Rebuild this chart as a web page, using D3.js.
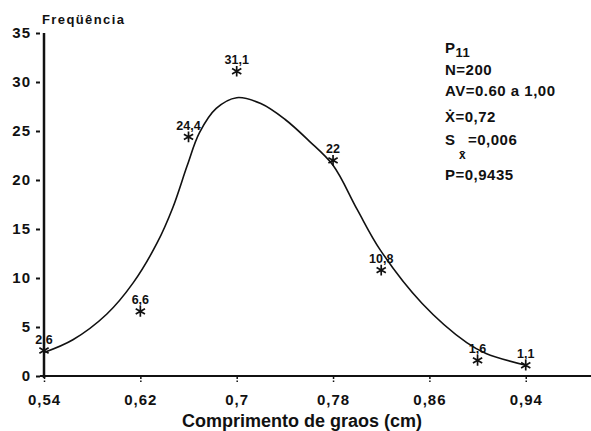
<!DOCTYPE html>
<html>
<head>
<meta charset="utf-8">
<script src="https://cdn.jsdelivr.net/npm/d3@7"></script>
<style>
  body { margin: 0; background: #fff; }
  text { font-family: "Liberation Sans", Arial, sans-serif; font-weight: bold; fill: #111; }
</style>
</head>
<body>
<div id="chart"></div>
<script>
// observed frequencies (%)
const obsX = [0.54, 0.62, 0.66, 0.70, 0.78, 0.82, 0.90, 0.94];
const obsY = [2.6, 6.6, 24.4, 31.1, 22, 10.8, 1.6, 1.1];
const obsLabels = ["2,6", "6,6", "24,4", "31,1", "22", "10,8", "1,6", "1,1"];

// fitted curve
const fitX = [0.54, 0.564, 0.592, 0.614, 0.634, 0.647, 0.659, 0.669, 0.683, 0.70, 0.72, 0.74, 0.76, 0.78, 0.80, 0.819, 0.854, 0.891, 0.907, 0.94];
const fitY = [2.4, 3.7, 6.3, 9.5, 13.6, 17.2, 21.5, 24.8, 27.3, 28.4, 27.8, 26.2, 24.0, 21.5, 17.0, 12.9, 7.4, 3.4, 2.3, 1.1];

const xTicks = [0.54, 0.62, 0.70, 0.78, 0.86, 0.94];
const xTickLabels = ["0,54", "0,62", "0,7", "0,78", "0,86", "0,94"];
const yTicks = [0, 5, 10, 15, 20, 25, 30, 35];

const W = 591, H = 431;

const svg = d3.select("#chart").append("svg")
    .attr("width", W)
    .attr("height", H);

const x = d3.scaleLinear().domain([0.54, 1.0]).range([44, 598]);
const y = d3.scaleLinear().domain([0, 35]).range([376, 33]);

// y axis ticks (detached from the axis line)
const yAxis = svg.append("g")
    .attr("transform", "translate(40,0)")
    .call(d3.axisLeft(y).tickValues(yTicks).tickSize(4).tickPadding(5));
yAxis.select(".domain").remove();
yAxis.selectAll("line").attr("stroke", "#111").attr("stroke-width", 2);
yAxis.selectAll("text")
    .style("font-size", "15px")
    .attr("font-family", null)
    .style("letter-spacing", "1px");

// x axis ticks
const xAxis = svg.append("g")
    .attr("transform", "translate(0,377)")
    .call(d3.axisBottom(x).tickValues(xTicks).tickFormat((d, i) => xTickLabels[i]).tickSize(5).tickPadding(12));
xAxis.select(".domain").remove();
xAxis.selectAll("line").attr("stroke", "#111").attr("stroke-width", 1.5).attr("stroke-dasharray", "2,1.5");
xAxis.selectAll("text")
    .style("font-size", "15px")
    .attr("font-family", null)
    .style("letter-spacing", "1px");

// axis lines
svg.append("line")
    .attr("x1", x(0.54)).attr("x2", x(0.54))
    .attr("y1", y(35)).attr("y2", y(0) + 2)
    .attr("stroke", "#111").attr("stroke-width", 2.5);
svg.append("line")
    .attr("x1", x(0.54) - 4).attr("x2", W)
    .attr("y1", y(0)).attr("y2", y(0))
    .attr("stroke", "#111").attr("stroke-width", 2.2);

// fitted curve
const fit = fitX.map((d, i) => ({ x: d, y: fitY[i] }));
svg.append("path")
    .datum(fit)
    .attr("d", d3.line().x(d => x(d.x)).y(d => y(d.y)).curve(d3.curveCatmullRom))
    .attr("fill", "none")
    .attr("stroke", "#111")
    .attr("stroke-width", 1.6);

// observed points
const obs = obsX.map((d, i) => ({ x: d, y: obsY[i], label: obsLabels[i] }));
svg.selectAll(".pt")
    .data(obs)
    .join("path")
    .attr("class", "pt")
    .attr("transform", d => "translate(" + x(d.x) + "," + y(d.y) + ")")
    .attr("d", d3.symbol(d3.symbolAsterisk, 80))
    .attr("fill", "none")
    .attr("stroke", "#111")
    .attr("stroke-width", 1.7);

svg.selectAll(".pt-label")
    .data(obs)
    .join("text")
    .attr("class", "pt-label")
    .attr("x", d => x(d.x))
    .attr("y", d => y(d.y) - 7)
    .attr("text-anchor", "middle")
    .style("font-size", "12.5px")
    .text(d => d.label);

// titles
svg.append("text")
    .attr("x", 42).attr("y", 24)
    .style("font-size", "13px")
    .style("letter-spacing", "1.4px")
    .text("Freqüência");

svg.append("text")
    .attr("x", 302).attr("y", 427)
    .attr("text-anchor", "middle")
    .style("font-size", "18px")
    .text("Comprimento de graos (cm)");

// statistics block
const note = svg.append("g").style("font-size", "15px").style("letter-spacing", "0.5px");
const p = note.append("text").attr("x", 445).attr("y", 53);
p.append("tspan").text("P");
p.append("tspan").attr("dy", 4).style("font-size", "13px").text("11");
note.append("text").attr("x", 445).attr("y", 75).text("N=200");
note.append("text").attr("x", 445).attr("y", 96).text("AV=0.60 a 1,00");
note.append("text").attr("x", 445).attr("y", 122).text("X\u0307=0,72");
note.append("text").attr("x", 445).attr("y", 145).text("S");
note.append("text").attr("x", 468).attr("y", 145).text("=0,006");
note.append("text").attr("x", 459).attr("y", 159).style("font-size", "12px").text("x\u0304");
note.append("text").attr("x", 445).attr("y", 180).text("P=0,9435");
</script>
</body>
</html>
